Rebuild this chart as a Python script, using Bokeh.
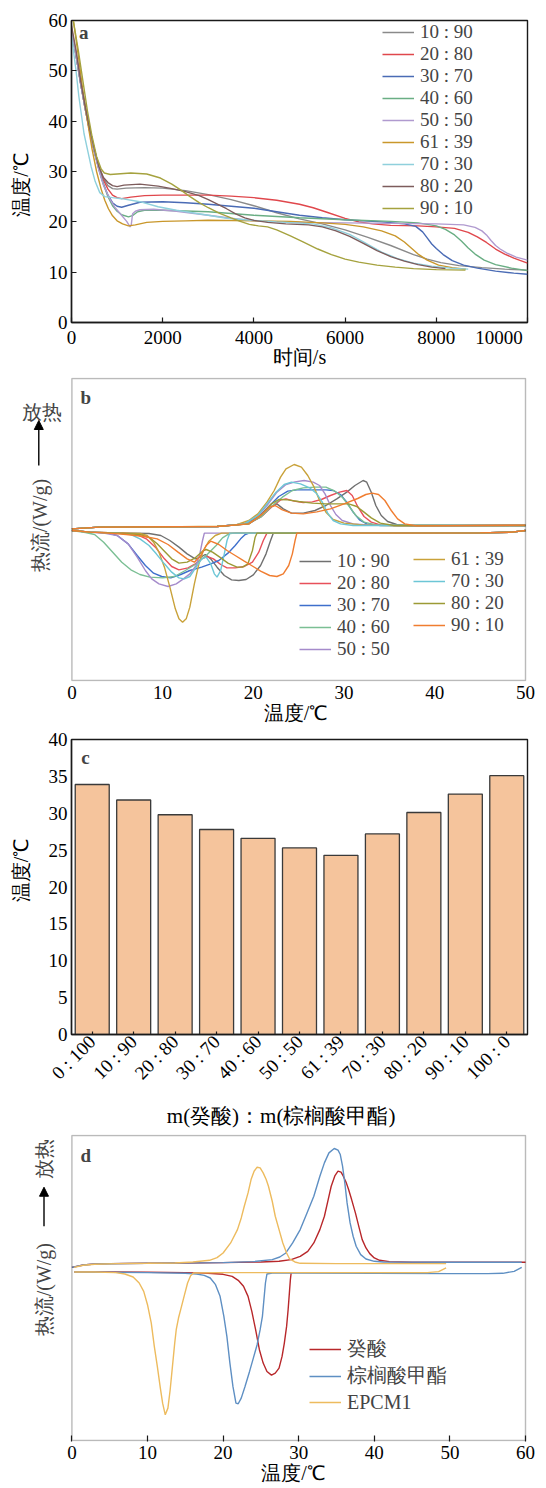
import math
from bokeh.plotting import figure
from bokeh.models import Range1d, FactorRange, Legend, LegendItem, Label, Arrow, NormalHead, BoxAnnotation
from bokeh.embed import file_html
from bokeh.resources import INLINE

SERIF = "Liberation Serif"
INK = "#1a1a1a"
NB = "\u00a0"
W = 546

ratios = ["10 : 90", "20 : 80", "30 : 70", "40 : 60", "50 : 50", "61 : 39", "70 : 30", "80 : 20", "90 : 10"]

# ---------------- panel a : cooling curves (time s, temperature C) ----------------
a_10_90_t = [0,100,200,300,400,500,600,700,800,900,1000,1200,1600,2000,2500,3000,3500,4000,4500,5000,5500,6000,6500,7000,7500,7800,8100,8500,9000,9500,10000]
a_10_90_T = [58.5,53.5,48,43,38.5,34.5,31,28.6,27.2,26.6,26.5,26.7,26.8,26.7,26.2,25.4,24.4,23.2,21.8,20.6,19.6,18.4,16.9,15.3,13.5,12.6,11.9,11.3,10.9,10.6,10.4]
a_20_80_t = [0,100,200,300,400,500,600,700,800,900,1000,1100,1300,1600,2000,3000,3500,4000,4500,5000,5300,5600,6000,6300,6600,7000,7600,8000,8400,8700,8900,9100,9300,9500,9700,10000]
a_20_80_T = [58,53,47.5,42.5,38,34,30.8,28.3,26.5,25.3,24.8,24.6,24.9,25.2,25.3,25.3,25.1,24.8,24.3,23.5,22.8,21.9,20.7,20.0,19.6,19.3,19.2,19.0,18.7,17.9,17.0,15.9,14.6,13.6,12.8,11.8]
a_30_70_t = [0,100,200,300,400,500,600,700,800,900,1000,1100,1250,1500,2000,2500,3000,3500,4000,4500,5000,5500,6000,6800,7300,7550,7700,7800,7900,8000,8150,8350,8600,8900,9300,9700,10000]
a_30_70_T = [58,53,47.5,42.5,38,34,30.5,27.5,25.3,23.8,23.1,22.9,23.3,23.9,24.0,23.8,23.5,23.1,22.7,22.0,21.3,20.8,20.4,20.0,19.6,19.1,18.0,16.8,15.6,14.7,13.5,12.3,11.4,10.8,10.2,9.8,9.6]
a_40_60_t = [0,100,200,300,400,500,600,700,800,900,1000,1100,1250,1350,1450,1600,2000,3000,4000,5000,6000,7000,7600,8000,8200,8400,8550,8700,8850,9050,9300,9650,10000]
a_40_60_T = [58,53,47.5,42.5,38,34,30.5,27.5,25.0,23.2,22.1,21.4,21.0,21.3,22.0,22.3,22.3,22.0,21.3,20.8,20.4,20.1,19.8,19.2,18.5,17.4,16.2,14.8,13.6,12.4,11.5,10.8,10.3]
a_50_50_t = [0,100,200,300,400,500,600,700,850,950,1070,1210,1285,1310,1340,1400,1500,1800,2300,3000,3500,4000,5000,6000,7000,8000,8600,8850,9000,9100,9200,9300,9400,9550,9750,10000]
a_50_50_T = [58,53,47.5,42.5,38,34,30.3,27.3,24.4,22.9,21.6,20.1,19.0,19.4,21.6,22.1,22.4,22.5,22.1,21.3,20.7,20.2,19.9,19.8,19.7,19.6,19.4,18.9,18.2,17.4,16.3,15.3,14.6,13.8,13.0,12.4]
a_61_39_t = [40,150,250,350,450,550,650,730,810,900,1000,1120,1250,1400,1650,2000,2500,3000,4000,4800,5500,6000,6400,6800,7100,7300,7450,7600,7800,8050,8350,8650]
a_61_39_T = [60,53,46,40,34.5,30,26.5,24.3,22.6,21.2,20.2,19.6,19.2,19.4,19.9,20.1,20.2,20.3,20.2,20.1,19.8,19.5,19.0,18.2,17.2,16.0,14.8,13.6,12.4,11.4,10.9,10.6]
a_70_30_t = [0,100,160,275,430,520,620,730,900,1100,1500,1900,2300,3000,3400,3800,4500,5300,5700,6100,6400,6800,7150,7500,7900,8300,8700]
a_70_30_T = [57,50,45,37.5,31,28,25.8,25.0,24.8,24.6,24.0,23.0,22.3,21.3,20.7,20.4,20.0,19.6,18.8,17.5,16.0,14.0,12.7,11.8,11.2,10.8,10.6]
a_80_20_t = [0,100,200,300,400,500,600,700,800,900,1000,1150,1500,1900,2200,2500,2800,3000,3200,3400,3600,3800,4000,4300,4700,5200,5500,5800,6100,6400,6700,7000,7300,7600,7900,8200]
a_80_20_T = [59,54,48,43,38.5,34.5,31,28.8,27.8,27.2,27.0,27.3,27.5,27.1,26.6,26.0,25.2,24.4,23.5,22.6,21.6,20.8,20.3,19.9,19.6,19.4,19.0,18.2,17.1,15.7,14.3,13.1,12.2,11.5,11.0,10.7]
a_90_10_t = [40,150,250,350,450,550,650,720,850,1000,1300,1650,1950,2200,2400,2600,2800,3000,3250,3500,3700,3900,4100,4300,4500,4800,5100,5400,5700,6000,6300,6700,7100,7500,8000,8640]
a_90_10_T = [60,54,48,42,37,33,30.5,29.7,29.4,29.5,29.7,29.5,28.7,27.5,26.3,25.0,23.8,22.8,21.7,20.8,20.1,19.5,19.2,19.0,18.4,17.2,15.9,14.6,13.5,12.6,12.0,11.4,11.0,10.7,10.5,10.4]
a_colors = ["#8a8a8a", "#e0474c", "#4a6bb5", "#6aae84", "#b09acf", "#c9972b", "#8fd0dc", "#7d5c5c", "#a5a23e"]
a_series = [(a_10_90_t, a_10_90_T), (a_20_80_t, a_20_80_T), (a_30_70_t, a_30_70_T),
            (a_40_60_t, a_40_60_T), (a_50_50_t, a_50_50_T), (a_61_39_t, a_61_39_T),
            (a_70_30_t, a_70_30_T), (a_80_20_t, a_80_20_T), (a_90_10_t, a_90_10_T)]
a_xticks = [0, 2000, 4000, 6000, 8000, 10000]
a_yticks = [0, 10, 20, 30, 40, 50, 60]

# ---------------- panel b : DSC of the mixtures (temperature C, heat flow a.u.) ----------------
b_up_10_90_x = [0,3,16,19.5,21,22,22.6,23.3,24.2,25.5,26.8,28,29.2,30.3,31.2,32.1,32.5,33,33.5,34.1,34.8,35.8,37.5,50]
b_up_10_90_y = [0.05,0.1,0.12,0.2,0.45,0.72,0.8,0.65,0.52,0.52,0.6,0.75,0.95,1.15,1.35,1.5,1.45,1.15,0.75,0.45,0.27,0.18,0.14,0.15]
b_dn_10_90_x = [0,2,5,8.5,9.8,10.8,11.8,12.7,13.6,14.2,14.7,15.3,16,16.8,17.6,18.4,19.2,20,20.8,21.4,21.9,22.2,45,48.5,50]
b_dn_10_90_y = [0,-0.05,-0.07,-0.09,-0.15,-0.3,-0.5,-0.7,-0.85,-0.8,-0.72,-0.85,-1.1,-1.35,-1.48,-1.5,-1.47,-1.33,-1.05,-0.7,-0.3,-0.08,-0.07,-0.05,0]
b_up_20_80_x = [0,3,16,19.3,20.8,22,23,23.6,24.5,25.5,26.5,27.5,28.5,29.5,30.3,30.9,31.5,32.2,33,34,36,50]
b_up_20_80_y = [0.05,0.1,0.12,0.2,0.4,0.7,0.92,0.95,0.88,0.84,0.86,0.93,1.05,1.15,1.2,1.05,0.72,0.42,0.25,0.17,0.14,0.15]
b_dn_20_80_x = [0,2,5,7,8.2,9.2,10.2,11,11.8,12.8,13.6,14.3,14.9,15.6,16.4,17.1,18,19,19.9,20.6,21.1,21.5,45,48.5,50]
b_dn_20_80_y = [0,-0.05,-0.07,-0.1,-0.25,-0.5,-0.85,-1.08,-1.18,-1.12,-1.0,-0.85,-0.78,-0.85,-1.02,-1.12,-1.12,-1.08,-0.95,-0.65,-0.3,-0.08,-0.07,-0.05,0]
b_up_30_70_x = [0,3,16,19,20.5,21.7,22.8,23.8,24.8,26.5,28,28.8,29.6,30.3,31,31.7,32.5,34,50]
b_up_30_70_y = [0.05,0.1,0.12,0.2,0.4,0.72,1.02,1.18,1.22,1.22,1.22,1.2,1.08,0.85,0.55,0.32,0.2,0.15,0.15]
b_dn_30_70_x = [0,2,4,5,6.2,7.2,8.1,9,9.9,10.9,12,13,14.3,15.3,16.2,17.2,18,18.6,19.1,19.6,45,48.5,50]
b_dn_30_70_y = [0,-0.05,-0.08,-0.15,-0.4,-0.75,-1.05,-1.28,-1.38,-1.42,-1.32,-1.2,-1.1,-1.0,-0.9,-0.68,-0.45,-0.25,-0.12,-0.07,-0.07,-0.05,0]
b_up_40_60_x = [0,3,16,19.3,20.8,22,23.2,24.3,25.5,26.8,28,29,29.8,30.5,31.3,32.2,33.5,50]
b_up_40_60_y = [0.05,0.1,0.12,0.2,0.4,0.72,1.0,1.2,1.28,1.3,1.3,1.18,1.0,0.75,0.45,0.25,0.17,0.15]
b_dn_40_60_x = [0,1.5,2.5,3.5,4.5,5.5,6.5,7.5,8.6,10,11.3,12.5,13.6,14.8,15.9,16.6,17.3,18,45,48.5,50]
b_dn_40_60_y = [0,-0.06,-0.12,-0.35,-0.65,-0.95,-1.18,-1.32,-1.4,-1.42,-1.38,-1.2,-1.02,-0.75,-0.45,-0.22,-0.1,-0.07,-0.07,-0.05,0]
b_up_50_50_x = [0,3,16,19,20.5,21.5,22.6,23.6,24.6,25.6,26.6,27.3,27.9,28.5,29.1,29.8,31,33,50]
b_up_50_50_y = [0.05,0.1,0.12,0.2,0.45,0.75,1.15,1.38,1.46,1.5,1.45,1.35,1.1,0.75,0.48,0.3,0.2,0.16,0.15]
b_dn_50_50_x = [0,2,3.5,5,6.2,7.2,8.1,8.8,9.6,10.6,11.5,12.3,13,13.7,14.1,14.4,14.6,45,48.5,50]
b_dn_50_50_y = [0,-0.05,-0.08,-0.15,-0.4,-0.8,-1.2,-1.45,-1.6,-1.68,-1.6,-1.45,-1.3,-1.05,-0.7,-0.3,-0.08,-0.07,-0.05,0]
b_up_61_39_x = [0,3,10,16,18,19.5,20.5,21.5,22.3,23,23.6,24.5,25.3,26,26.7,27.3,28,28.8,30,32,36,50]
b_up_61_39_y = [0.05,0.1,0.11,0.13,0.16,0.3,0.5,0.85,1.2,1.6,1.85,1.98,1.9,1.65,1.3,0.9,0.55,0.33,0.22,0.17,0.14,0.15]
b_dn_61_39_x = [0,2,5,7.5,8.3,9,9.6,10.2,10.8,11.4,11.8,12.2,12.6,13,13.5,14,14.5,15.1,15.8,16.5,45,48.5,50]
b_dn_61_39_y = [0,-0.05,-0.07,-0.09,-0.15,-0.35,-0.65,-1.1,-1.7,-2.35,-2.65,-2.75,-2.65,-2.3,-1.6,-1.0,-0.6,-0.32,-0.15,-0.08,-0.07,-0.05,0]
b_up_70_30_x = [0,3,16,19,20.5,21.5,22.5,23.4,24.2,25.2,26.2,27,27.6,28.2,28.8,29.6,31,50]
b_up_70_30_y = [0.05,0.1,0.12,0.2,0.45,0.8,1.15,1.38,1.45,1.4,1.28,1.1,0.85,0.52,0.3,0.2,0.15,0.15]
b_dn_70_30_x = [0,2,5,6.5,7.5,8.5,9.3,10.2,11,11.8,12.4,13,13.7,14.3,14.8,15.3,15.7,16,16.4,16.8,17.1,17.4,45,48.5,50]
b_dn_70_30_y = [0,-0.05,-0.08,-0.12,-0.25,-0.45,-0.7,-1.0,-1.25,-1.42,-1.45,-1.38,-1.1,-0.85,-0.8,-1.0,-1.3,-1.4,-1.2,-0.7,-0.3,-0.08,-0.07,-0.05,0]
b_up_80_20_x = [0,3,16,19.5,21,22,22.8,23.8,25,26.5,28,29.5,30.5,31.4,32.2,33,34,35.5,50]
b_up_80_20_y = [0.05,0.1,0.12,0.2,0.5,0.8,0.93,0.92,0.87,0.82,0.8,0.8,0.8,0.72,0.55,0.38,0.22,0.15,0.15]
b_dn_80_20_x = [0,2,5,7.5,8.6,9.4,10.2,11,11.8,12.7,13.6,14.4,14.8,15.5,16.3,17.2,18.2,18.8,19.4,19.9,20.2,20.4,45,48.5,50]
b_dn_80_20_y = [0,-0.05,-0.08,-0.12,-0.22,-0.4,-0.62,-0.85,-0.98,-0.95,-0.82,-0.62,-0.57,-0.65,-0.8,-0.98,-1.1,-1.1,-1.0,-0.6,-0.2,-0.08,-0.07,-0.05,0]
b_up_90_10_x = [0,3,16,19.5,21,21.8,22.4,23.2,24.2,25.5,27,28.5,30,31.5,32.4,33.1,33.8,34.5,35.2,35.9,36.7,38,50]
b_up_90_10_y = [0.05,0.1,0.12,0.2,0.5,0.7,0.75,0.62,0.52,0.5,0.56,0.65,0.8,0.96,1.08,1.12,1.08,0.9,0.6,0.35,0.2,0.14,0.16]
b_dn_90_10_x = [0,2,4,6,8,9.4,10.6,11.7,12.7,13.5,14.2,14.8,15.3,16.2,17.1,18,19,19.8,20.8,21.8,22.6,23.3,23.9,24.3,24.6,24.8,45,48.5,50]
b_dn_90_10_y = [0,-0.05,-0.08,-0.12,-0.18,-0.25,-0.42,-0.65,-0.85,-0.95,-0.75,-0.45,-0.32,-0.42,-0.6,-0.75,-0.92,-1.05,-1.22,-1.35,-1.38,-1.3,-1.05,-0.7,-0.3,-0.08,-0.07,-0.05,0]
b_colors = ["#707070", "#e8505a", "#3e6fcc", "#7bbf94", "#a58bcb", "#c9a23a", "#6cc6d6", "#9c9a35", "#f07d30"]
b_series = [
    (b_up_10_90_x, b_up_10_90_y, b_dn_10_90_x, b_dn_10_90_y),
    (b_up_20_80_x, b_up_20_80_y, b_dn_20_80_x, b_dn_20_80_y),
    (b_up_30_70_x, b_up_30_70_y, b_dn_30_70_x, b_dn_30_70_y),
    (b_up_40_60_x, b_up_40_60_y, b_dn_40_60_x, b_dn_40_60_y),
    (b_up_50_50_x, b_up_50_50_y, b_dn_50_50_x, b_dn_50_50_y),
    (b_up_61_39_x, b_up_61_39_y, b_dn_61_39_x, b_dn_61_39_y),
    (b_up_70_30_x, b_up_70_30_y, b_dn_70_30_x, b_dn_70_30_y),
    (b_up_80_20_x, b_up_80_20_y, b_dn_80_20_x, b_dn_80_20_y),
    (b_up_90_10_x, b_up_90_10_y, b_dn_90_10_x, b_dn_90_10_y),
]
b_xticks = [0, 10, 20, 30, 40, 50]
b_xlim = (0, 50)
b_ylim = (-4.5, 4.56)

# ---------------- panel c : phase-change temperature bars ----------------
c_categories = ["0 : 100", "10 : 90", "20 : 80", "30 : 70", "40 : 60", "50 : 50", "61 : 39", "70 : 30", "80 : 20", "90 : 10", "100 : 0"]
c_values = [33.9, 31.8, 29.8, 27.8, 26.6, 25.3, 24.3, 27.2, 30.1, 32.6, 35.1]
c_yticks = [0, 5, 10, 15, 20, 25, 30, 35, 40]

# ---------------- panel d : DSC of pure components and EPCM1 ----------------
d_names = ["癸酸", "棕榈酸甲酯", "EPCM1"]
d_colors = ["#b8272a", "#5e8fc3", "#edbb5e"]
d_up_acid_x = [0,1.5,3,5,10,15,20,25,27.4,29,30.2,31.2,32,32.8,33.4,33.9,34.3,34.8,35.2,35.6,35.9,36.3,36.6,37,37.5,38,38.4,38.9,39.4,40,40.7,42,45,50,55,60]
d_up_acid_y = [-0.13,-0.06,-0.03,-0.02,-0.01,0,0.01,0.03,0.05,0.1,0.2,0.35,0.6,1.0,1.4,1.9,2.3,2.62,2.75,2.72,2.6,2.4,2.2,1.9,1.5,1.05,0.7,0.45,0.28,0.15,0.08,0.04,0.02,0.02,0.02,0.02]
d_dn_acid_x = [0.3,5,10,15,18,20,21.2,22,22.7,23.3,23.8,24.3,24.8,25.3,25.8,26.4,26.9,27.4,27.8,28.1,28.4,28.6,28.8,28.9,29.0]
d_dn_acid_y = [-0.27,-0.27,-0.28,-0.29,-0.31,-0.34,-0.4,-0.52,-0.7,-1.0,-1.45,-2.0,-2.6,-3.0,-3.25,-3.36,-3.3,-3.15,-2.8,-2.4,-1.9,-1.4,-0.8,-0.5,-0.3]
d_up_ester_x = [0,1.5,3,10,20,24,26.5,27.5,28.3,29.2,30.2,31.1,32,32.8,33.4,34,34.7,35.2,35.5,35.8,36.1,36.4,36.8,37.2,37.6,38.2,38.9,40,41.2,50,59.5]
d_up_ester_y = [-0.13,-0.06,-0.03,-0.01,0.01,0.04,0.1,0.18,0.3,0.6,1.0,1.5,2.0,2.6,3.0,3.3,3.43,3.38,3.25,2.9,2.4,1.8,1.2,0.8,0.5,0.25,0.12,0.05,0.03,0.02,0.02]
d_dn_ester_x = [0.3,5,10,15,16.5,17.5,18.3,19,19.6,20.1,20.5,20.9,21.3,21.7,22,22.4,22.9,23.5,24,24.5,24.9,25.2,25.4,25.6,25.8,26.5,30,40,50,55,57,58.5,59.5]
d_dn_ester_y = [-0.27,-0.28,-0.29,-0.31,-0.33,-0.37,-0.45,-0.65,-1.0,-1.6,-2.2,-3.0,-3.7,-4.2,-4.22,-4.05,-3.7,-3.25,-2.85,-2.45,-2.0,-1.6,-1.1,-0.6,-0.33,-0.3,-0.3,-0.31,-0.32,-0.32,-0.31,-0.25,-0.13]
d_up_epcm_x = [0.3,1.5,3,6,10,13.6,16,18.2,19.2,20,21,21.9,22.4,22.8,23.3,23.7,24.1,24.5,24.9,25.3,25.7,26,26.5,26.9,27.4,27.9,28.4,28.8,29.5,30.2,35,40,45,49.5]
d_up_epcm_y = [-0.13,-0.07,-0.04,-0.02,-0.01,0,0.03,0.08,0.16,0.3,0.6,1.0,1.35,1.7,2.1,2.5,2.75,2.87,2.85,2.7,2.5,2.3,1.85,1.4,1.0,0.6,0.3,0.12,0.03,-0.01,-0.02,-0.02,-0.02,-0.02]
d_dn_epcm_x = [0.3,3,5.8,7,8.1,8.9,9.5,10,10.5,10.9,11.3,11.7,12,12.35,12.7,13,13.3,13.6,13.8,14.1,14.5,14.9,15.3,15.7,16.1,20,30,40,47,48.5,49.5]
d_dn_epcm_y = [-0.27,-0.27,-0.29,-0.33,-0.42,-0.6,-0.85,-1.25,-1.8,-2.5,-3.1,-3.75,-4.2,-4.55,-4.35,-3.8,-3.1,-2.4,-2.0,-1.65,-1.3,-0.95,-0.6,-0.38,-0.3,-0.29,-0.29,-0.29,-0.29,-0.26,-0.15]
d_series = [(d_up_acid_x, d_up_acid_y, d_dn_acid_x, d_dn_acid_y),
            (d_up_ester_x, d_up_ester_y, d_dn_ester_x, d_dn_ester_y),
            (d_up_epcm_x, d_up_epcm_y, d_dn_epcm_x, d_dn_epcm_y)]
d_xticks = [0, 10, 20, 30, 40, 50, 60]
d_xlim = (0, 60)
d_ylim = (-5.32, 3.82)


def style_axes(p):
    p.xgrid.grid_line_color = None
    p.ygrid.grid_line_color = None
    for ax in p.axis:
        ax.axis_line_color = INK
        ax.axis_line_width = 1.4
        ax.major_tick_line_color = INK
        ax.major_tick_line_width = 1.2
        ax.major_tick_in = 5
        ax.major_tick_out = 0
        ax.minor_tick_line_color = None
        ax.major_label_text_font = SERIF
        ax.major_label_text_font_size = "19px"
        ax.major_label_text_color = "black"
        ax.major_label_standoff = 4
        ax.axis_label_text_font = SERIF
        ax.axis_label_text_font_size = "20px"
        ax.axis_label_text_font_style = "normal"
        ax.axis_label_text_color = "black"


def boxed_fig(height, top, bottom, x_range, y_range):
    p = figure(width=W, height=height, x_range=x_range, y_range=y_range,
               output_backend="svg", toolbar_location=None,
               min_border_left=71, min_border_right=19,
               min_border_top=top, min_border_bottom=bottom)
    p.outline_line_color = INK
    p.outline_line_width = 1.4
    style_axes(p)
    return p


def open_fig(height, top, bottom, xlim, ylim, px_per_x, px_per_y):
    # the frame reaches left of x=0, so that the y-title, the arrow and "放热" lie inside it;
    # the visible box is drawn from x=0 to the last tick
    left_px = 71.4 - 5.0
    xr = Range1d(xlim[0] - left_px / px_per_x, xlim[1] + 2.0 / px_per_x)
    yr = Range1d(ylim[0] - 1.0 / px_per_y, ylim[1] + 1.0 / px_per_y)
    p = figure(width=W, height=height, x_range=xr, y_range=yr,
               output_backend="svg", toolbar_location=None,
               min_border_left=5, min_border_right=19,
               min_border_top=top, min_border_bottom=bottom)
    p.outline_line_color = None
    p.yaxis.visible = False
    style_axes(p)
    p.xaxis.axis_line_color = None
    p.add_layout(BoxAnnotation(left=xlim[0], right=xlim[1], bottom=ylim[0], top=ylim[1],
                               fill_color=None, fill_alpha=0, line_color=INK, line_width=1.4))
    return p


def panel_letter(p, x, y, txt):
    p.add_layout(Label(x=x, y=y, text=txt, text_font=SERIF, text_font_size="19px",
                       text_font_style="bold", text_align="center", text_baseline="middle"))


def style_legend(lg, row_h, font_size):
    lg.padding = 0
    lg.margin = 0
    lg.spacing = 0
    lg.border_line_color = None
    lg.background_fill_alpha = 0
    lg.glyph_width = 32
    lg.glyph_height = row_h
    lg.label_height = row_h
    lg.label_standoff = 6
    lg.label_text_font = SERIF
    lg.label_text_font_size = font_size
    lg.label_text_baseline = "middle"


# ---------------- figure a ----------------
pa = boxed_fig(370, 20, 47, Range1d(0, 10000), Range1d(0, 60))
pa.xaxis.ticker = a_xticks
pa.yaxis.ticker = a_yticks
pa.xaxis.major_label_overrides = {10000: "10000" + NB * 5}
pa.xaxis.axis_label = "时间/s"
pa.xaxis.axis_label_standoff = -5
pa.yaxis.axis_label = "温度/℃" + NB * 5
pa.yaxis.axis_label_standoff = 14
a_items = []
for (tx, ty), col, lab in zip(a_series, a_colors, ratios):
    r = pa.line(tx, ty, line_color=col, line_width=1.4)
    a_items.append(LegendItem(label=lab, renderers=[r]))
lga = Legend(items=a_items, location=(311, 103))
style_legend(lga, 22, "19px")
pa.add_layout(lga, "center")
panel_letter(pa, 268, 57.6, "a")

# ---------------- figure b ----------------
pb = open_fig(358, 7, 47, b_xlim, b_ylim, 9.072, 302 / 9.06)
pb.xaxis.ticker = b_xticks
pb.xaxis.major_tick_in = 0
pb.xaxis.axis_label = NB * 12 + "温度/℃"
pb.xaxis.major_label_standoff = 4
pb.xaxis.axis_label_standoff = 0
b_up_r = []
for (ux, uy, dx, dy), col in zip(b_series, b_colors):
    r = pb.line(ux, uy, line_color=col, line_width=1.4)
    pb.line(dx, dy, line_color=col, line_width=1.4)
    b_up_r.append(r)
lgb1 = Legend(items=[LegendItem(label=ratios[i], renderers=[b_up_r[i]]) for i in range(5)], location=(294, 21))
lgb2 = Legend(items=[LegendItem(label=ratios[i], renderers=[b_up_r[i]]) for i in range(5, 9)], location=(408, 45))
for lg in (lgb1, lgb2):
    style_legend(lg, 22, "19px")
    pb.add_layout(lg, "center")
panel_letter(pb, 1.53, 4.0, "b")
pb.add_layout(Label(x=-3.26, y=3.57, text="放热", text_font=SERIF, text_font_size="20px",
                    text_align="center", text_baseline="middle"))
pb.add_layout(Arrow(end=NormalHead(size=9, fill_color="black", line_color="black"),
                    x_start=-3.65, y_start=1.95, x_end=-3.65, y_end=3.3, line_width=1.4, line_color="black"))
pb.add_layout(Label(x=-3.57, y=0.15, text="热流/(W/g)", text_font=SERIF, text_font_size="20px",
                    angle=math.pi / 2, text_align="center", text_baseline="middle"))

# ---------------- figure c ----------------
pc = boxed_fig(402, 11, 90, FactorRange(*c_categories, range_padding=0), Range1d(0, 40))
pc.vbar(x=c_categories, top=c_values, width=0.82, fill_color="#f5c49c", line_color="#3a3a3a", line_width=1.3)
pc.yaxis.ticker = c_yticks
pc.yaxis.major_tick_in = 0
pc.xaxis.major_tick_in = 3
pc.xaxis.major_label_orientation = math.pi / 4
pc.xaxis.major_label_standoff = 4
pc.yaxis.axis_label = NB * 7 + "温度/℃"
pc.yaxis.axis_label_standoff = 14
pc.xaxis.axis_label = "m(癸酸)：m(棕榈酸甲酯)" + NB * 7
pc.xaxis.axis_label_standoff = 10
pc.xaxis.axis_label_text_font_size = "21px"
panel_letter(pc, 0.335, 37.5, "c")

# ---------------- figure d ----------------
pd_ = open_fig(358, 4, 47, d_xlim, d_ylim, 7.56, 305 / 9.14)
pd_.xaxis.ticker = d_xticks
pd_.xaxis.major_tick_in = 6
pd_.xaxis.axis_label = NB * 11 + "温度/℃"
pd_.xaxis.major_label_standoff = 4
pd_.xaxis.axis_label_standoff = 0
d_items = []
for (ux, uy, dx, dy), col, nm in zip(d_series, d_colors, d_names):
    r = pd_.line(ux, uy, line_color=col, line_width=1.4)
    pd_.line(dx, dy, line_color=col, line_width=1.4)
    d_items.append(LegendItem(label=nm, renderers=[r]))
lgd = Legend(items=d_items, location=(304, 26))
style_legend(lgd, 26, "20px")
pd_.add_layout(lgd, "center")
panel_letter(pd_, 1.84, 3.22, "d")
pd_.add_layout(Label(x=-3.69, y=-0.8, text="热流/(W/g)", text_font=SERIF, text_font_size="20px",
                     angle=math.pi / 2, text_align="center", text_baseline="middle"))
pd_.add_layout(Arrow(end=NormalHead(size=9, fill_color="black", line_color="black"),
                     x_start=-3.69, y_start=1.1, x_end=-3.69, y_end=2.27, line_width=1.4, line_color="black"))
pd_.add_layout(Label(x=-3.69, y=3.13, text="放热", text_font=SERIF, text_font_size="20px",
                     angle=math.pi / 2, text_align="center", text_baseline="middle"))

# four independent roots, stacked one under another (no shared frame alignment)
open("out.html", "w").write(file_html([pa, pb, pc, pd_], INLINE))
